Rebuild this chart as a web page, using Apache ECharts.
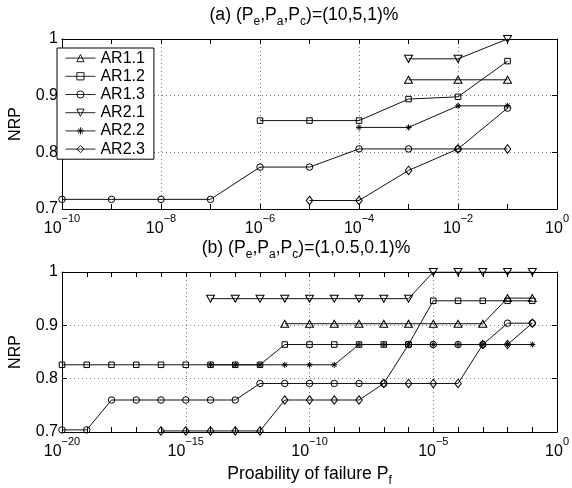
<!DOCTYPE html>
<html>
<head>
<meta charset="utf-8">
<script src="https://cdn.jsdelivr.net/npm/echarts@6/dist/echarts.min.js"></script>
<style>
html,body{margin:0;padding:0;background:#fff;}
#chart{width:572px;height:488px;}
</style>
</head>
<body>
<div id="chart"></div>
<script>
// ---- Data (x = log10 of probability of failure Pf, y = NRP) ----
var seriesNames = ['AR1.1', 'AR1.2', 'AR1.3', 'AR2.1', 'AR2.2', 'AR2.3'];

// (a) (Pe,Pa,Pc) = (10,5,1)%
var a11X = [-3, -2, -1];
var a11Y = [0.928, 0.928, 0.928];
var a12X = [-6, -5, -4, -3, -2, -1];
var a12Y = [0.856, 0.856, 0.856, 0.894, 0.898, 0.961];
var a13X = [-10, -9, -8, -7, -6, -5, -4, -3, -2, -1];
var a13Y = [0.717, 0.717, 0.717, 0.717, 0.774, 0.774, 0.806, 0.806, 0.806, 0.878];
var a21X = [-3, -2, -1];
var a21Y = [0.965, 0.965, 1.0];
var a22X = [-4, -3, -2, -1];
var a22Y = [0.844, 0.844, 0.882, 0.882];
var a23X = [-5, -4, -3, -2, -1];
var a23Y = [0.715, 0.715, 0.768, 0.806, 0.806];

// (b) (Pe,Pa,Pc) = (1,0.5,0.1)%
var b11X = [-11, -10, -9, -8, -7, -6, -5, -4, -3, -2, -1];
var b11Y = [0.903, 0.903, 0.903, 0.903, 0.903, 0.903, 0.903, 0.903, 0.903, 0.951, 0.951];
var b12X = [-20, -19, -18, -17, -16, -15, -14, -13, -12, -11, -10, -9, -8, -7, -6, -5, -4, -3, -2, -1];
var b12Y = [0.826, 0.826, 0.826, 0.826, 0.826, 0.826, 0.826, 0.826, 0.826, 0.864, 0.864, 0.864, 0.864, 0.864, 0.864, 0.946, 0.946, 0.946, 0.946, 0.946];
var b13X = [-20, -19, -18, -17, -16, -15, -14, -13, -12, -11, -10, -9, -8, -7, -6, -5, -4, -3, -2, -1];
var b13Y = [0.704, 0.704, 0.760, 0.760, 0.760, 0.760, 0.760, 0.760, 0.791, 0.791, 0.791, 0.791, 0.791, 0.791, 0.864, 0.864, 0.864, 0.864, 0.904, 0.904];
var b21X = [-14, -13, -12, -11, -10, -9, -8, -7, -6, -5, -4, -3, -2, -1];
var b21Y = [0.95, 0.95, 0.95, 0.95, 0.95, 0.95, 0.95, 0.95, 0.95, 1.0, 1.0, 1.0, 1.0, 1.0];
var b22X = [-14, -13, -12, -11, -10, -9, -8, -7, -6, -5, -4, -3, -2, -1];
var b22Y = [0.826, 0.826, 0.826, 0.826, 0.826, 0.826, 0.864, 0.864, 0.864, 0.864, 0.864, 0.864, 0.864, 0.864];
var b23X = [-16, -15, -14, -13, -12, -11, -10, -9, -8, -7, -6, -5, -4, -3, -2, -1];
var b23Y = [0.702, 0.702, 0.702, 0.702, 0.702, 0.760, 0.760, 0.760, 0.760, 0.791, 0.791, 0.791, 0.791, 0.864, 0.864, 0.904];

// Titles / labels as pieces: [text, isSubscript]
var titleAParts = [['(a) (P', 0], ['e', 1], [',P', 0], ['a', 1], [',P', 0], ['c', 1], [')=(10,5,1)%', 0]];
var titleBParts = [['(b) (P', 0], ['e', 1], [',P', 0], ['a', 1], [',P', 0], ['c', 1], [')=(1,0.5,0.1)%', 0]];
var xLabelParts = [['Proability of failure P', 0], ['f', 1]];
var yLabelText = 'NRP';

// ---- Styling helpers ----
var FONT = '"Liberation Sans", Arial, Helvetica, sans-serif';
var markers = {
  'AR1.1': { symbol: 'triangle', size: [8, 7] },
  'AR1.2': { symbol: 'rect', size: 5.5 },
  'AR1.3': { symbol: 'circle', size: 6.5 },
  'AR2.1': { symbol: 'path://M-5,0L5,0L0,8.6Z', size: [8, 7] },
  'AR2.2': { symbol: 'path://M0,-1L0,1M-1,0L1,0M-0.7,-0.7L0.7,0.7M-0.7,0.7L0.7,-0.7', size: 6 },
  'AR2.3': { symbol: 'diamond', size: [6.5, 8.5] }
};

function zip(xs, ys) { return xs.map(function (x, i) { return [x, ys[i]]; }); }

function mkSeries(name, xs, ys, gi) {
  var m = markers[name];
  return {
    name: name, type: 'line',
    xAxisIndex: gi * 2, yAxisIndex: gi * 2,
    data: zip(xs, ys),
    symbol: m.symbol, symbolSize: m.size, showAllSymbol: true,
    lineStyle: { color: '#111', width: 1 },
    itemStyle: { color: 'rgba(255,255,255,0)', borderColor: '#000', borderWidth: 1 },
    emphasis: { disabled: true },
    animation: false
  };
}

function richText(parts) {
  return parts.map(function (p) { return '{' + (p[1] ? 's' : 'b') + '|' + p[0] + '}'; }).join('');
}

function powLabel(v) {
  var e = Math.round(v);
  var sup = e < 0 ? '\u2212' + (-e) : String(e);
  return '{b|10}{s' + sup.length + '|' + sup + '}';
}

var axisTickStyle = { show: true, inside: true, length: 5, lineStyle: { color: '#000', width: 1 } };
function supStyle(w) {
  return { fontSize: 11, lineHeight: 11, width: w, verticalAlign: 'top', fontFamily: FONT, color: '#000' };
}
var richPow = {
  b: { fontSize: 16, lineHeight: 24, width: 17.8, verticalAlign: 'bottom', fontFamily: FONT, color: '#000' },
  s1: supStyle(6.1),
  s2: supStyle(12.5),
  s3: supStyle(18.7)
};
function richSub(fs, sfs, lh) {
  return {
    b: { fontSize: fs, lineHeight: lh, verticalAlign: 'top', fontFamily: FONT, color: '#000', fontWeight: 'normal' },
    s: { fontSize: sfs, lineHeight: sfs, verticalAlign: 'bottom', fontFamily: FONT, color: '#000', fontWeight: 'normal' }
  };
}

function xAxes(gi, min, interval, minorSplit, withName) {
  var base = {
    type: 'value', gridIndex: gi, min: min, max: 0, interval: interval,
    axisLine: { show: true, onZero: false, lineStyle: { color: '#000', width: 1 } },
    axisTick: axisTickStyle,
    minorTick: { show: true, splitNumber: minorSplit, length: 5, lineStyle: { color: '#000', width: 1 } }
  };
  var bottom = Object.assign({}, base, {
    position: 'bottom',
    axisLabel: { show: true, margin: 4, formatter: powLabel, rich: richPow, showMinLabel: true, showMaxLabel: true },
    splitLine: { show: true, lineStyle: { color: '#777', width: 1, type: [1, 3] } }
  });
  if (withName) {
    bottom.name = richText(xLabelParts);
    bottom.nameLocation = 'middle';
    bottom.nameGap = 33;
    bottom.nameTextStyle = { rich: richSub(17.6, 12, 22) };
  }
  var top = Object.assign({}, base, {
    position: 'top',
    axisLabel: { show: false },
    splitLine: { show: false }
  });
  return [bottom, top];
}

function yAxes(gi) {
  var base = {
    type: 'value', gridIndex: gi, min: 0.7, max: 1, interval: 0.1,
    axisLine: { show: true, onZero: false, lineStyle: { color: '#000', width: 1 } },
    axisTick: axisTickStyle
  };
  var left = Object.assign({}, base, {
    position: 'left',
    name: yLabelText, nameLocation: 'middle', nameGap: 38,
    nameTextStyle: { fontSize: 16, fontFamily: FONT, color: '#000' },
    axisLabel: {
      show: true, margin: 4, fontSize: 16, fontFamily: FONT, color: '#000',
      formatter: function (v) { return Math.abs(v - 1) < 1e-9 ? '1' : v.toFixed(1); }
    },
    splitLine: { show: true, lineStyle: { color: '#777', width: 1, type: [1, 3] } }
  });
  var right = Object.assign({}, base, {
    position: 'right', axisLabel: { show: false }, splitLine: { show: false }
  });
  return [left, right];
}

var seriesA = [
  mkSeries('AR1.1', a11X, a11Y, 0), mkSeries('AR1.2', a12X, a12Y, 0), mkSeries('AR1.3', a13X, a13Y, 0),
  mkSeries('AR2.1', a21X, a21Y, 0), mkSeries('AR2.2', a22X, a22Y, 0), mkSeries('AR2.3', a23X, a23Y, 0)
];
var seriesB = [
  mkSeries('AR1.1', b11X, b11Y, 1), mkSeries('AR1.2', b12X, b12Y, 1), mkSeries('AR1.3', b13X, b13Y, 1),
  mkSeries('AR2.1', b21X, b21Y, 1), mkSeries('AR2.2', b22X, b22Y, 1), mkSeries('AR2.3', b23X, b23Y, 1)
];

var chart = echarts.init(document.getElementById('chart'), null, { renderer: 'canvas' });
chart.setOption({
  backgroundColor: '#fff',
  animation: false,
  textStyle: { fontFamily: FONT, color: '#000' },
  title: [
    { text: richText(titleAParts), left: 304, textAlign: 'center', top: 6, padding: 0,
      textStyle: { fontWeight: 'normal', rich: richSub(17.6, 12, 22) } },
    { text: richText(titleBParts), left: 306, textAlign: 'center', top: 239, padding: 0,
      textStyle: { fontWeight: 'normal', rich: richSub(17.6, 12, 22) } }
  ],
  grid: [
    { left: 51, right: 10.5, top: 39, height: 170, containLabel: false },
    { left: 51, right: 10.5, top: 272, height: 169.5, containLabel: false }
  ],
  xAxis: xAxes(0, -10, 2, 2, false).concat(xAxes(1, -20, 5, 5, true)),
  yAxis: yAxes(0).concat(yAxes(1)),
  legend: {
    data: seriesNames,
    orient: 'vertical', left: 57, top: 48,
    padding: [2, 9, 2, 8],
    itemWidth: 30, itemHeight: 9, itemGap: 2,
    backgroundColor: '#fff', borderColor: '#000', borderWidth: 1,
    itemStyle: { color: 'rgba(255,255,255,0)', borderColor: '#000', borderWidth: 0.9 },
    lineStyle: { color: '#111', width: 0.9 },
    textStyle: { fontSize: 16, fontFamily: FONT, color: '#000', lineHeight: 16.2 },
    selectedMode: false
  },
  series: seriesA.concat(seriesB)
});
</script>
</body>
</html>
